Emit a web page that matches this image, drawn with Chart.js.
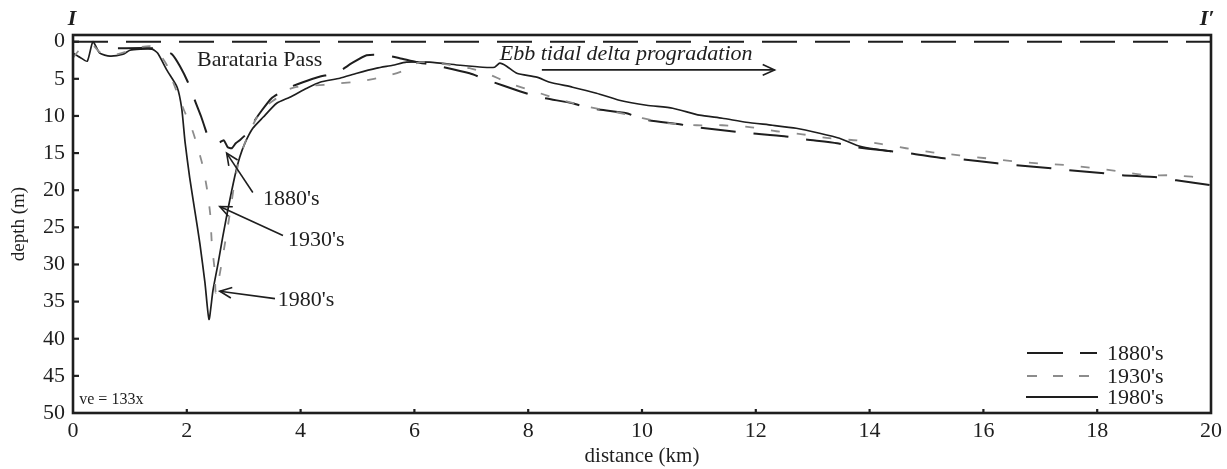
<!DOCTYPE html>
<html><head><meta charset="utf-8">
<script src="https://cdn.jsdelivr.net/npm/chart.js@4/dist/chart.umd.min.js"></script>
<style>html,body{margin:0;padding:0;background:#fff;}#wrap{width:1227px;height:469px;}</style>
</head><body><div id="wrap"><canvas id="c" width="1227" height="469"></canvas></div>
<script>
// ---- data (distance in km, depth in m) ----
const xTicks = [0,2,4,6,8,10,12,14,16,18,20];
const yTicks = [0,5,10,15,20,25,30,35,40,45,50];
const seriesNames = ["1880's","1930's","1980's"];

const seaKm = [0,20];
const seaDepth = [0,0];

const km1880 = [0.79,1.40,1.58,1.74,1.88,2.02,2.14,2.25,2.35,2.45,2.58,2.65,2.72,2.79,2.86,2.93,3.06,3.16,3.32,3.49,3.65,3.81,4.04,4.30,4.65,4.90,5.16,5.48,5.74,6.04,6.36,6.97,7.29,7.85,8.20,8.78,9.08,9.73,10.01,10.66,10.96,11.57,11.92,12.50,12.85,13.43,13.78,14.38,14.70,15.31,15.63,16.24,16.58,17.19,17.51,18.12,18.44,19.05,19.39,20.0];
const depth1880 = [0.88,0.88,1.15,1.68,3.3,5.46,7.88,10.04,12.33,null,13.55,13.27,14.22,14.35,13.68,13.27,12.33,10.98,9.23,7.61,6.81,6.13,5.46,4.78,4.11,2.9,1.82,1.82,2.22,2.76,3.17,4.25,5.19,6.67,7.48,8.29,8.96,9.64,10.45,11.12,11.52,12.06,12.33,12.74,13.14,13.68,14.22,14.76,15.03,15.70,15.84,16.37,16.64,17.05,17.32,17.72,17.99,18.26,18.67,19.34];

const km1930 = [0,0.09,0.21,0.35,0.47,0.68,0.91,1.09,1.35,1.47,1.65,1.76,1.93,2.11,2.27,2.35,2.41,2.44,2.49,2.51,2.60,2.67,2.76,2.84,2.93,3.06,3.23,3.37,3.58,3.76,3.93,4.25,4.57,5.07,5.51,5.83,6.09,6.53,6.97,7.27,7.67,8.15,8.60,9.08,9.55,10.01,10.48,10.96,11.41,11.89,12.36,12.82,13.29,13.78,14.22,14.64,15.10,15.58,16.05,16.51,16.98,17.45,17.91,18.38,18.86,19.32,20.0];
const depth1930 = [2.2,1.3,0.75,0.5,1.41,1.82,1.41,0.88,0.61,1.15,3.17,5.46,8.83,12.2,16.4,19.6,23.1,27.2,30.8,33.8,30.4,27.2,23.0,18.9,15.6,12.9,10.2,8.8,7.6,6.5,6.1,5.9,5.7,5.3,4.65,3.84,2.76,3.03,3.57,4.25,5.6,6.8,7.9,8.8,9.5,10.3,11.0,11.25,11.25,11.5,12.06,12.47,13.0,13.3,13.8,14.35,14.9,15.3,15.7,16.1,16.4,16.6,17.0,17.45,17.99,17.99,18.4];

const km1980 = [0,0.12,0.25,0.35,0.47,0.65,0.88,1.0,1.18,1.39,1.49,1.65,1.83,1.91,1.97,2.05,2.14,2.23,2.32,2.39,2.46,2.55,2.63,2.72,2.84,2.93,3.02,3.16,3.34,3.58,3.81,4.11,4.34,4.69,4.99,5.34,5.62,5.86,6.27,6.80,7.20,7.41,7.50,7.62,7.80,8.15,8.38,8.78,9.20,9.60,10.08,10.54,11.01,11.41,11.83,12.29,12.71,13.12,13.47,13.77,14.0,14.38];
const depth1980 = [1.55,2.09,2.63,0.0,1.55,1.95,1.68,1.15,1.0,1.0,1.55,3.84,6.13,8.96,13.55,18.26,22.7,27.2,32.5,37.4,33.5,29.85,26.35,22.7,18.26,15.57,13.68,11.66,10.18,8.29,7.48,6.27,5.46,4.92,4.25,3.57,3.17,2.76,2.76,3.17,3.44,3.44,2.9,3.3,4.25,4.78,5.46,6.13,6.94,7.88,8.56,8.96,9.9,10.31,10.85,11.25,11.66,12.33,13.0,13.95,14.35,14.76];

const pts = (xs, ys) => xs.map((v,i)=>({x:v, y:ys[i]}));

const SERIF = '"Liberation Serif", "Times New Roman", serif';
const INK = '#1e1e1e';
const GRAY = '#8c8c8c';
const DASH80 = [35,18];
const DASH30 = [9,17];

const overlay = {
  id:'overlay',
  afterDatasetsDraw(chart){
    const {ctx, chartArea:a, scales:{x, y}} = chart;
    const X = v => x.getPixelForValue(v), Y = v => y.getPixelForValue(v);
    const seg = (x1,y1,x2,y2)=>{ctx.beginPath();ctx.moveTo(x1,y1);ctx.lineTo(x2,y2);ctx.stroke();};
    ctx.save();
    // frame
    ctx.strokeStyle = INK; ctx.lineWidth = 2.6; ctx.setLineDash([]);
    ctx.strokeRect(a.left, a.top, a.right-a.left, a.bottom-a.top);
    // inward ticks
    ctx.lineWidth = 2.2;
    yTicks.forEach(v=>{ if(v===50) return; const p=Y(v); seg(a.left, p, a.left+6, p); });
    xTicks.forEach(v=>{ if(v===0||v===20) return; const p=X(v); seg(p, a.bottom, p, a.bottom-4); });

    // text
    ctx.fillStyle = INK;
    ctx.textBaseline = 'middle'; ctx.textAlign = 'left';
    ctx.font = '22px ' + SERIF;
    ctx.fillText('Barataria Pass', X(2.18), Y(2.5));
    ctx.font = 'italic 22px ' + SERIF;
    ctx.fillText('Ebb tidal delta progradation', X(7.5), Y(1.68));
    ctx.font = '22px ' + SERIF;
    ctx.fillText("1880's", X(3.34), Y(21.2));
    ctx.fillText("1930's", X(3.78), Y(26.75));
    ctx.fillText("1980's", X(3.6), Y(34.8));
    ctx.font = '16px ' + SERIF;
    ctx.fillText('ve = 133x', X(0.11), Y(48.2));
    ctx.font = 'bold italic 22px ' + SERIF;
    ctx.textAlign = 'center';
    ctx.fillText('I', 72, 19);
    ctx.fillText("I\u2032", 1207, 19);

    // arrows
    const arrow = (x1,y1,x2,y2)=>{
      const px1=X(x1), py1=Y(y1), px2=X(x2), py2=Y(y2);
      ctx.lineWidth = 1.6; ctx.strokeStyle = INK;
      seg(px1,py1,px2,py2);
      const ang = Math.atan2(py2-py1, px2-px1), L = 13, w = 0.42;
      ctx.beginPath();
      ctx.moveTo(px2 - L*Math.cos(ang-w), py2 - L*Math.sin(ang-w));
      ctx.lineTo(px2, py2);
      ctx.lineTo(px2 - L*Math.cos(ang+w), py2 - L*Math.sin(ang+w));
      ctx.stroke();
    };
    arrow(8.24, 3.8, 12.33, 3.8);
    arrow(3.16, 20.3, 2.70, 15.0);
    arrow(3.69, 26.1, 2.58, 22.2);
    arrow(3.55, 34.6, 2.58, 33.6);

    // legend
    const lx1 = 1027, lx2 = 1097, rows = [353, 376, 397];
    ctx.lineWidth = 2;
    ctx.strokeStyle = INK; ctx.setLineDash([36,17,17,200]); seg(lx1, rows[0], lx2, rows[0]);
    ctx.strokeStyle = GRAY; ctx.setLineDash([10,16]); seg(lx1, rows[1], lx2, rows[1]);
    ctx.strokeStyle = INK; ctx.setLineDash([]); seg(lx1-1, rows[2], lx2+1, rows[2]);
    ctx.font = '22px ' + SERIF; ctx.textAlign = 'left'; ctx.fillStyle = INK;
    seriesNames.forEach((n,i)=> ctx.fillText(n, 1107, rows[i]+1));
    ctx.restore();
  }
};

new Chart(document.getElementById('c'), {
  type: 'line',
  data: {
    datasets: [
      {label:'sea level', data: pts(seaKm, seaDepth), borderColor: INK, borderWidth: 2, borderDash: DASH80, pointRadius: 0, tension: 0},
      {label: seriesNames[1], data: pts(km1930, depth1930), borderColor: GRAY, borderWidth: 1.8, borderDash: DASH30, pointRadius: 0, tension: 0.2},
      {label: seriesNames[0], data: pts(km1880, depth1880), borderColor: INK, borderWidth: 2, borderDash: DASH80, pointRadius: 0, tension: 0.2, spanGaps: false},
      {label: seriesNames[2], data: pts(km1980, depth1980), borderColor: INK, borderWidth: 1.7, pointRadius: 0, tension: 0.2}
    ]
  },
  options: {
    responsive: false, animation: false, devicePixelRatio: 1,
    layout: {padding: {left: 0, right: 15, top: 35, bottom: 0}},
    plugins: {legend: {display: false}, tooltip: {enabled: false}},
    scales: {
      x: {
        type: 'linear', min: 0, max: 20,
        afterBuildTicks: s => { s.ticks = xTicks.map(v=>({value:v})); },
        afterFit: s => { s.height = 56; },
        grid: {display: false, drawTicks: false}, border: {display: false},
        ticks: {font: {family: SERIF, size: 22}, color: INK, padding: 5, maxRotation: 0},
        title: {display: true, text: 'distance (km)', font: {family: SERIF, size: 21}, color: INK, padding: {top: 0, bottom: 0}}
      },
      y: {
        type: 'linear', reverse: true, min: -0.9, max: 50,
        afterBuildTicks: s => { s.ticks = yTicks.map(v=>({value:v})); },
        afterFit: s => { s.width = 73; },
        grid: {display: false, drawTicks: false}, border: {display: false},
        ticks: {font: {family: SERIF, size: 22}, color: INK, padding: 8},
        title: {display: true, text: 'depth (m)', font: {family: SERIF, size: 19}, color: INK, padding: {top: 8, bottom: 0}}
      }
    }
  },
  plugins: [overlay]
});
</script>
</body></html>
